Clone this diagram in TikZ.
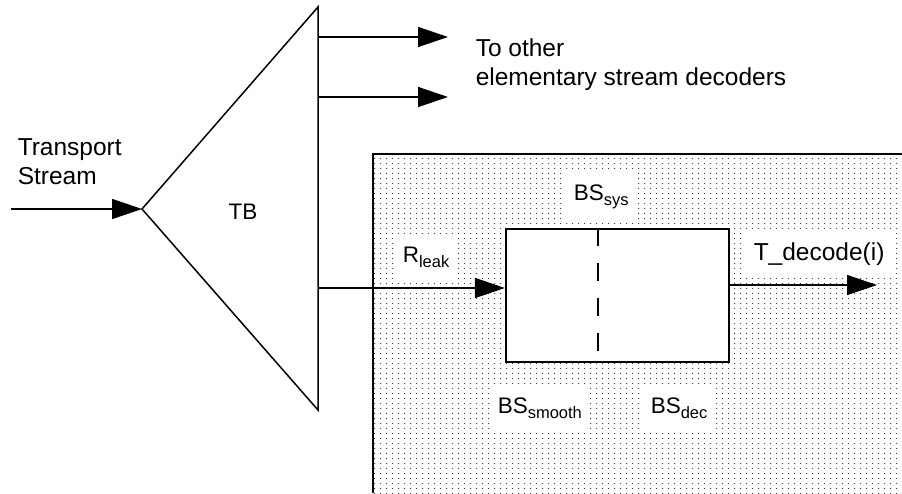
\documentclass[tikz,border=0pt]{standalone}
\usepackage{fontspec}
\setmainfont{Liberation Sans}
\usetikzlibrary{arrows.meta,patterns.meta}
\tikzdeclarepattern{name=specks, type=uncolored, bottom left={(0pt,0pt)}, top right={(5.5pt,5pt)}, tile size={(5.5pt,5pt)}, code={\pgfpathrectangle{\pgfpointorigin}{\pgfpoint{1.1pt}{1.1pt}}\pgfusepath{fill}}}
\newcommand{\lowidx}[1]{\raisebox{-5.5pt}{\fontsize{16.5}{18}\selectfont #1}}

\begin{document}
\begin{tikzpicture}[x=1pt, y=-1pt, line width=1.5pt, >={Triangle[length=30pt,width=20pt]}]
    \tikzstyle{lbl} = [font=\fontsize{24.5}{29}\selectfont, inner sep=0pt, anchor=north west, align=left]
    \tikzstyle{tag} = [font=\fontsize{22.5}{27}\selectfont, fill=white, inner xsep=8pt, inner ysep=11pt, anchor=base west]
    \tikzstyle{buf} = [draw, line width=2.2pt, fill=white, minimum width=223pt, minimum height=133pt, inner sep=0pt]
    \useasboundingbox (0,0) rectangle (902,493);

    \fill[pattern=specks, pattern color=black!75] (373,154) rectangle (902,493);
    \draw (373,493) -- (373,154) -- (902,154);

    \node[buf] (buf) at (617.5,295.5) {};
    \coordinate (split) at (598,0);
    \draw[line width=2pt, dash pattern=on 18pt off 17pt] (buf.north -| split) -- (buf.south -| split);

    \node[lbl] (ts) at (17,138) {Transport\\Stream};
    \node[lbl] (other) at (475,38) {To other\\elementary stream decoders};
    \node[font=\fontsize{22.5}{26}\selectfont] (tb) at (243,212) {TB};
    \node[tag] (rleak) at (394,262) {R\lowidx{leak}};
    \node[tag] (bssys) at (565,200) {BS\lowidx{sys}};
    \node[tag] (bssm) at (489,413) {BS\lowidx{smooth}};
    \node[tag] (bsdec) at (642,413) {BS\lowidx{dec}};
    \node[tag, font=\fontsize{24.5}{29}\selectfont] (tdec) at (745,260) {T\_decode(i)};

    \coordinate (tip) at (142,209);
    \coordinate (ttop) at (318,7);
    \coordinate (tbot) at (318,410);
    \draw (tip) -- (ttop) -- (tbot) -- cycle;

    \coordinate (tsin) at (11,209);
    \coordinate (o1) at (318,37);
    \coordinate (o1e) at (448,37);
    \coordinate (o2) at (318,97);
    \coordinate (o2e) at (448,97);
    \coordinate (o3) at (318,288);
    \coordinate (tout) at (877,285);

    \draw[->] (tsin) -- (tip);
    \draw[->] (o1) -- (o1e);
    \draw[->] (o2) -- (o2e);
    \draw[->] (o3) -- (o3 -| buf.west);
    \draw[->] (tout -| buf.east) -- (tout);
\end{tikzpicture}
\end{document}
